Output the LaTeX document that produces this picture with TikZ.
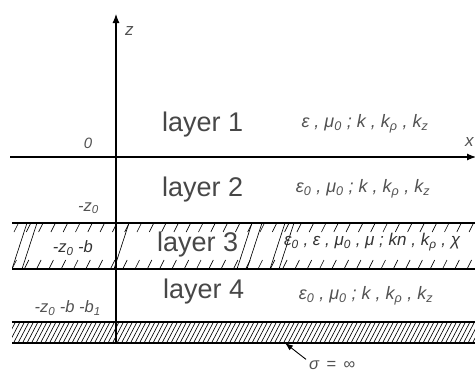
\documentclass[tikz,border=0pt]{standalone}
\usepackage{fontspec}
\setmainfont{Liberation Sans}
\usetikzlibrary{arrows.meta}
\begin{document}
\begin{tikzpicture}[x=1pt,y=-1pt,
  lay/.style={font=\fontsize{27}{27}\selectfont, text=black!72, anchor=west, inner sep=0pt},
  prop/.style={font=\fontsize{18}{18}\selectfont\itshape, text=black!68, inner sep=0pt},
  lab/.style={font=\fontsize{16.5}{16.5}\selectfont\itshape, text=black!68, inner sep=0pt},
  axis/.style={line width=1.1pt, -{Latex[length=9pt,width=7pt]}},
  bound/.style={line width=1.2pt},
  hatch/.style={line width=0.65pt}]
\useasboundingbox (0,0) rectangle (475,372);
% axes
\coordinate (zb) at (116,343);
\coordinate (zt) at (116,14);
\coordinate (xl) at (10,157);
\coordinate (xr) at (476,157);
\draw[axis] (zb) -- (zt);
\draw[axis] (xl) -- (xr);
\node[lab, anchor=west, font=\fontsize{17}{17}\selectfont\itshape] (zlab) at (125,31) {z};
\node[lab, anchor=west, font=\fontsize{17}{17}\selectfont\itshape] (xlab) at (465,142) {x};
\node[lab, font=\fontsize{15}{15}\selectfont\itshape] (zero) at (88,143) {0};
% layer 3 strip
\coordinate (l3a) at (12,223);
\coordinate (l3b) at (476,223);
\coordinate (l3c) at (12,269);
\coordinate (l3d) at (476,269);
\begin{scope}
\clip (l3a) rectangle (l3d);
\foreach \i in {0,...,38} {
  \draw[hatch] (14+\i*12.3,232) -- ++(4.5,-9);
  \draw[hatch] (12+\i*12.3,269) -- ++(4.5,-9);
}
\foreach \x in {12,22,114,237,247,270,279} {
  \draw[hatch] (\x,269) -- ++(15,-46);
}
\end{scope}
\draw[bound] (l3a) -- (l3b);
\draw[bound] (l3c) -- (l3d);
% bottom conductor
\coordinate (g1) at (12,322);
\coordinate (g2) at (476,322);
\coordinate (g3) at (12,343);
\coordinate (g4) at (476,343);
\begin{scope}
\clip (g1) rectangle (g4);
\foreach \i in {0,...,106} {
  \draw[hatch] (\i*4.5,343) -- ++(11,-21);
}
\end{scope}
\draw[bound] (g1) -- (g2);
\draw[bound] (g3) -- (g4);
% layer labels
\node[lay] (L1) at (162,125) {layer 1};
\node[lay] (L2) at (162,190) {layer 2};
\node[lay] (L3) at (157,245) {layer 3};
\node[lay] (L4) at (163,292) {layer 4};
% properties
\node[prop] (P1) at (365,124) {ε , μ\textsubscript{0} ; k , k\textsubscript{ρ} , k\textsubscript{z}};
\node[prop] (P2) at (363,189) {ε\textsubscript{0} , μ\textsubscript{0} ; k , k\textsubscript{ρ} , k\textsubscript{z}};
\node[prop, anchor=west, text=black!80, font=\fontsize{17}{17}\selectfont\itshape] (P3) at (284,242) {ε\textsubscript{0} , ε , μ\textsubscript{0} , μ ; kn , k\textsubscript{ρ} , χ};
\node[prop] (P4) at (366,296) {ε\textsubscript{0} , μ\textsubscript{0} ; k , k\textsubscript{ρ} , k\textsubscript{z}};
% left labels
\node[lab, anchor=east] (m1) at (99,208) {-z\textsubscript{0}};
\node[lab, anchor=east, text=black!80] (m2) at (93,248) {-z\textsubscript{0} -b};
\node[lab, anchor=east] (m3) at (101,308) {-z\textsubscript{0} -b -b\textsubscript{1}};
% sigma
\node[lab, anchor=west] (sig) at (309,365) {σ \,=\, ∞};
\coordinate (stip) at (285,343);
\draw[line width=0.9pt, -{Latex[length=8pt,width=6pt]}] (sig.north west) ++(-3,-1) -- (stip);
\end{tikzpicture}
\end{document}
